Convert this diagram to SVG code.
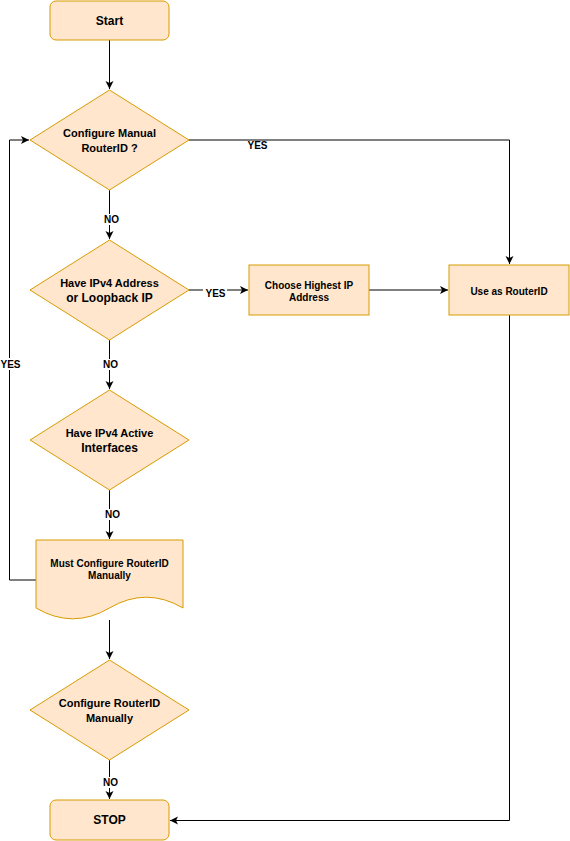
<svg xmlns="http://www.w3.org/2000/svg" width="570" height="841" viewBox="0 0 570 841">
<style>
.n{fill:#ffe6cc;stroke:#d79b00;stroke-width:1}
.t{font-family:"Liberation Sans",Arial,sans-serif;font-weight:bold;fill:#000;text-anchor:middle}
.c{fill:none;stroke:#000;stroke-width:1}
.lb{fill:#fff}
</style>
<defs>
<marker id="a" markerWidth="10" markerHeight="10" refX="8" refY="4" orient="auto" markerUnits="userSpaceOnUse">
<path d="M0,0 L8,4 L0,8 L2,4 Z" fill="#000"/>
</marker>
</defs>
<rect width="570" height="841" fill="#fff"/>
<g id="connectors">
<path class="c" d="M109.5,40 V89" marker-end="url(#a)"/>
<path class="c" d="M189,140 H509.5 V264" marker-end="url(#a)"/>
<path class="c" d="M109.5,190 V239" marker-end="url(#a)"/>
<path class="c" d="M189,290 H248" marker-end="url(#a)"/>
<path class="c" d="M369,290 H448" marker-end="url(#a)"/>
<path class="c" d="M109.5,340 V389" marker-end="url(#a)"/>
<path class="c" d="M109.5,490 V539" marker-end="url(#a)"/>
<path class="c" d="M36,580 H9.5 V140 H29" marker-end="url(#a)"/>
<path class="c" d="M109.5,620 V659" marker-end="url(#a)"/>
<path class="c" d="M109.5,760 V799" marker-end="url(#a)"/>
<path class="c" d="M509.5,315 V820.5 H170" marker-end="url(#a)"/>
<rect class="lb" x="247" y="141" width="21" height="10"/>
<text class="t" x="257.5" y="149" font-size="10">YES</text>
<rect class="lb" x="203" y="287" width="24" height="10"/>
<text class="t" x="215.5" y="296.5" font-size="10">YES</text>
<rect class="lb" x="0" y="358" width="21" height="12"/>
<text class="t" x="10.5" y="368" font-size="10">YES</text>
<rect class="lb" x="103" y="214" width="17" height="11"/>
<text class="t" x="111.5" y="223" font-size="10">NO</text>
<rect class="lb" x="102" y="359" width="17" height="11"/>
<text class="t" x="110.5" y="368" font-size="10">NO</text>
<rect class="lb" x="104" y="509" width="17" height="11"/>
<text class="t" x="112.5" y="518" font-size="10">NO</text>
<rect class="lb" x="102" y="777" width="17" height="11"/>
<text class="t" x="110.5" y="786" font-size="10">NO</text>
</g>
<g id="start">
<rect class="n" x="50" y="1" width="119" height="39" rx="6"/>
<text class="t" x="109.5" y="24.5" font-size="12">Start</text>
</g>
<g id="d1">
<path class="n" d="M109.5,90 L189,140 L109.5,190 L30,140 Z"/>
<text class="t" x="109.5" y="137" font-size="11">Configure Manual</text>
<text class="t" x="109.5" y="152" font-size="11">RouterID ?</text>
</g>
<g id="d2">
<path class="n" d="M109.5,240 L189,290 L109.5,340 L30,290 Z"/>
<text class="t" x="109.5" y="287" font-size="11">Have IPv4 Address</text>
<text class="t" x="109.5" y="302" font-size="12">or Loopback IP</text>
</g>
<g id="choose">
<rect class="n" x="249" y="265" width="120" height="50"/>
<text class="t" x="309" y="289" font-size="10">Choose Highest IP</text>
<text class="t" x="309" y="301" font-size="10">Address</text>
</g>
<g id="use">
<rect class="n" x="449" y="265" width="120" height="50"/>
<text class="t" x="509" y="295" font-size="10">Use as RouterID</text>
</g>
<g id="d3">
<path class="n" d="M109.5,390 L189,440 L109.5,490 L30,440 Z"/>
<text class="t" x="109.5" y="437" font-size="11">Have IPv4 Active</text>
<text class="t" x="109.5" y="452" font-size="12">Interfaces</text>
</g>
<g id="doc">
<path class="n" d="M36,540 H183 V608 Q146.25,586.4 109.5,608 Q72.75,629.6 36,608 Z"/>
<text class="t" x="109.5" y="567" font-size="10">Must Configure RouterID</text>
<text class="t" x="109.5" y="579" font-size="10">Manually</text>
</g>
<g id="d4">
<path class="n" d="M109.5,660 L189,710 L109.5,760 L30,710 Z"/>
<text class="t" x="109.5" y="707" font-size="11">Configure RouterID</text>
<text class="t" x="109.5" y="722" font-size="11">Manually</text>
</g>
<g id="stop">
<rect class="n" x="50" y="800" width="119" height="40" rx="6"/>
<text class="t" x="109.5" y="824" font-size="12">STOP</text>
</g>
</svg>
